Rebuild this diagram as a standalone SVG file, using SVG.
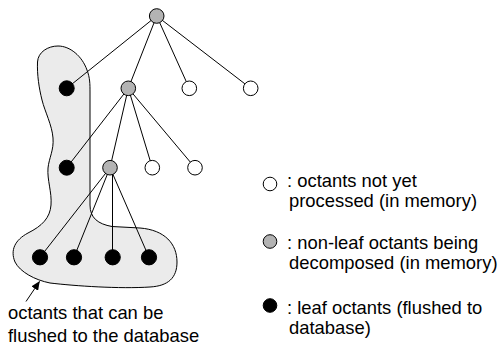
<svg xmlns="http://www.w3.org/2000/svg" width="499" height="347" viewBox="0 0 499 347">
<style>
.lbl{font-family:"Liberation Sans",Arial,sans-serif;font-size:18.4px;fill:#000}
.edge{stroke:#000;stroke-width:1;fill:none}
.white{fill:#fff;stroke:#000;stroke-width:1}
.gray{fill:#b3b3b3;stroke:#000;stroke-width:1}
.black{fill:#000;stroke:#000;stroke-width:1}
</style>
<defs>
<marker id="ah" markerWidth="9" markerHeight="8" refX="8.5" refY="4" orient="auto" markerUnits="userSpaceOnUse">
<path d="M0,0 L9,4 L0,8 Z" fill="#000"/>
</marker>
</defs>
<g id="region">
<path d="M 58,46 C 70,46 82,56 87,70 C 90,78 90,84 90,92 L 90,205 C 90,218 98,224 112,226.5 L 140,228 C 165,230 177,244 177,262 C 177,278 168,286 150,287 C 120,289 75,286 50,283 C 35,280 20,272 15,262 C 10,250 15,240 28,233 C 42,226 50,218 51,205 C 52,192 47,180 48,168 C 49,158 54,150 53,138 C 52,125 45,112 42,100 C 39,88 37,75 37.5,62 C 38,52 48,46 58,46 Z" fill="#ebebeb" stroke="#000" stroke-width="1"/>
</g>
<g id="connectors">
<line class="edge" x1="156.7" y1="16" x2="66.7" y2="88.3"/>
<line class="edge" x1="156.7" y1="16" x2="128.3" y2="88.3"/>
<line class="edge" x1="156.7" y1="16" x2="189.3" y2="88.3"/>
<line class="edge" x1="156.7" y1="16" x2="250.7" y2="88.3"/>
<line class="edge" x1="128.3" y1="88.3" x2="66.7" y2="167.7"/>
<line class="edge" x1="128.3" y1="88.3" x2="110" y2="167.7"/>
<line class="edge" x1="128.3" y1="88.3" x2="152.3" y2="167.7"/>
<line class="edge" x1="128.3" y1="88.3" x2="195" y2="167.7"/>
<line class="edge" x1="110" y1="167.7" x2="40" y2="257.3"/>
<line class="edge" x1="110" y1="167.7" x2="74" y2="257.3"/>
<line class="edge" x1="112.5" y1="167.7" x2="112.5" y2="257.3"/>
<line class="edge" x1="110" y1="167.7" x2="149" y2="257.3"/>
<line class="edge" x1="26" y1="301.5" x2="39.5" y2="281.5" marker-end="url(#ah)"/>
</g>
<g id="root"><circle class="gray" cx="156.7" cy="16" r="7.3"/></g>
<g id="n1a"><circle class="black" cx="66.7" cy="88.3" r="7.5"/></g>
<g id="n1b"><circle class="gray" cx="128.3" cy="88.3" r="7.3"/></g>
<g id="n1c"><circle class="white" cx="189.3" cy="88.3" r="7.3"/></g>
<g id="n1d"><circle class="white" cx="250.7" cy="88.3" r="7.3"/></g>
<g id="n2a"><circle class="black" cx="66.7" cy="167.7" r="7.5"/></g>
<g id="n2b"><circle class="gray" cx="110" cy="167.7" r="7.3"/></g>
<g id="n2c"><circle class="white" cx="152.3" cy="167.7" r="7.3"/></g>
<g id="n2d"><circle class="white" cx="195" cy="167.7" r="7.3"/></g>
<g id="n3a"><circle class="black" cx="40" cy="257.3" r="7.6"/></g>
<g id="n3b"><circle class="black" cx="74" cy="257.3" r="7.6"/></g>
<g id="n3c"><circle class="black" cx="112.7" cy="257.3" r="7.6"/></g>
<g id="n3d"><circle class="black" cx="149" cy="257.3" r="7.6"/></g>
<g id="region-label">
<text class="lbl" x="8" y="319">octants that can be</text>
<text class="lbl" x="8" y="341.5">flushed to the database</text>
</g>
<g id="legend-white">
<circle class="white" cx="270" cy="184" r="6.8"/>
<text class="lbl" x="287" y="187.3">: octants not yet</text>
<text class="lbl" x="289" y="207.3">processed (in memory)</text>
</g>
<g id="legend-gray">
<circle class="gray" cx="270" cy="241.5" r="6.8"/>
<text class="lbl" x="287" y="249">: non-leaf octants being</text>
<text class="lbl" x="289" y="268.5">decomposed (in memory)</text>
</g>
<g id="legend-black">
<circle class="black" cx="270" cy="305.5" r="6.8"/>
<text class="lbl" x="287" y="314">: leaf octants (flushed to</text>
<text class="lbl" x="289" y="334">database)</text>
</g>
</svg>
